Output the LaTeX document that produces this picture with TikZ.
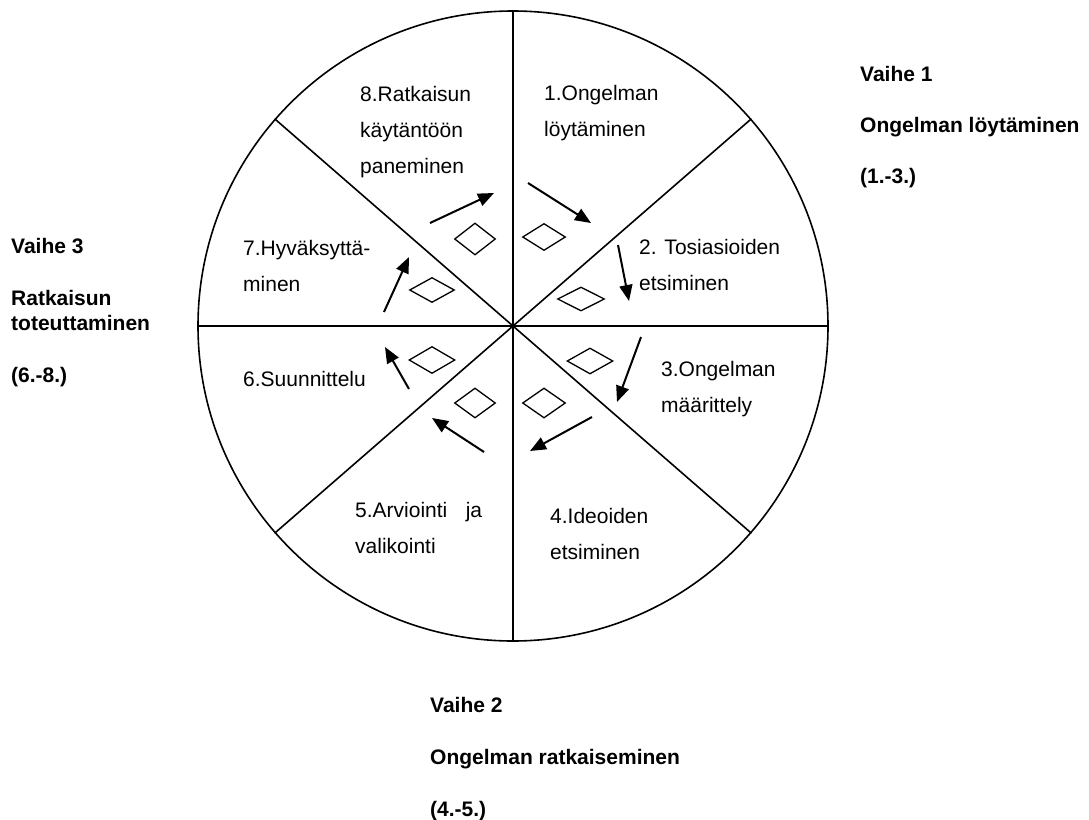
\documentclass[tikz,border=0pt]{standalone}
\usepackage{fontspec}
\setmainfont{Liberation Sans}
\usetikzlibrary{arrows.meta}
\usetikzlibrary{shapes.geometric,positioning}
\tikzset{wheel-line/.style={line width=1.6pt}}
\tikzset{>={Triangle[length=16pt,width=13pt]}}
\tikzset{step-arrow/.style={->, line width=2pt}}
\tikzset{step-diamond/.style={draw, diamond, inner sep=0, line width=1.3pt}}
\tikzset{step-text/.style={anchor=base west, inner sep=0, font=\fontsize{21}{25}\selectfont}}
\tikzset{phase-text/.style={anchor=base west, inner sep=0, font=\fontsize{21}{25}\selectfont\bfseries}}

\begin{document}
\begin{tikzpicture}[x=1pt, y=-1pt]
            \useasboundingbox (0,0) rectangle (1089,819);

            \node[circle, draw, wheel-line, minimum size=630pt, inner sep=0] (wheel) at (513,326) {};

            \draw[wheel-line] (wheel.north) -- (wheel.south);
            \draw[wheel-line] (wheel.west) -- (wheel.east);
            \draw[wheel-line] (wheel.139) -- (wheel.319);
            \draw[wheel-line] (wheel.41) -- (wheel.221);

            % sector texts
            \node[step-text] (t1a) at (544,100) {1.Ongelman};
            \node[step-text] (t1b) at ([yshift=-36pt]t1a.base west) {löytäminen};

            \node[step-text] (t2a) at (639,254) {2. Tosiasioiden};
            \node[step-text] (t2b) at ([yshift=-36pt]t2a.base west) {etsiminen};

            \node[step-text] (t3a) at (661,376) {3.Ongelman};
            \node[step-text] (t3b) at ([yshift=-36pt]t3a.base west) {määrittely};

            \node[step-text] (t4a) at (550,523) {4.Ideoiden};
            \node[step-text] (t4b) at ([yshift=-36pt]t4a.base west) {etsiminen};

            \node[step-text] (t5a) at (355,517) {\makebox[127pt][s]{5.Arviointi ja}};
            \node[step-text] (t5b) at ([yshift=-36pt]t5a.base west) {valikointi};

            \node[step-text] (t6a) at (243,386) {6.Suunnittelu};

            \node[step-text] (t7a) at (243,255) {7.Hyväksyttä-};
            \node[step-text] (t7b) at ([yshift=-36pt]t7a.base west) {minen};

            \node[step-text] (t8a) at (360,101) {8.Ratkaisun};
            \node[step-text] (t8b) at ([yshift=-36pt]t8a.base west) {käytäntöön};
            \node[step-text] (t8c) at ([yshift=-36pt]t8b.base west) {paneminen};

            % diamonds
            \node[step-diamond, minimum width=41pt, minimum height=32pt] (d8) at (475,239) {};
            \node[step-diamond, minimum width=43pt, minimum height=27pt] (d1) at (544,237) {};
            \node[step-diamond, minimum width=47pt, minimum height=24pt] (d2) at (581,299) {};
            \node[step-diamond, minimum width=46pt, minimum height=26pt] (d3) at (590,361) {};
            \node[step-diamond, minimum width=43pt, minimum height=30pt] (d4) at (544,403) {};
            \node[step-diamond, minimum width=41pt, minimum height=30pt] (d5) at (475,403) {};
            \node[step-diamond, minimum width=46pt, minimum height=27pt] (d6) at (432,360) {};
            \node[step-diamond, minimum width=45pt, minimum height=25pt] (d7) at (432,290) {};

            % arrows
            \coordinate (a8-from) at (430,223);
            \coordinate (a8-to) at (494,193);
            \coordinate (a1-from) at (528,183);
            \coordinate (a1-to) at (591,223);
            \coordinate (a2-from) at (618,245);
            \coordinate (a2-to) at (629,301);
            \coordinate (a3-from) at (641,337);
            \coordinate (a3-to) at (617,402);
            \coordinate (a4-from) at (592,417);
            \coordinate (a4-to) at (530,451);
            \coordinate (a5-from) at (484,452);
            \coordinate (a5-to) at (432,418);
            \coordinate (a6-from) at (409,389);
            \coordinate (a6-to) at (385,347);
            \coordinate (a7-from) at (384,312);
            \coordinate (a7-to) at (409,257);

            \draw[step-arrow] (a8-from) -- (a8-to);
            \draw[step-arrow] (a1-from) -- (a1-to);
            \draw[step-arrow] (a2-from) -- (a2-to);
            \draw[step-arrow] (a3-from) -- (a3-to);
            \draw[step-arrow] (a4-from) -- (a4-to);
            \draw[step-arrow] (a5-from) -- (a5-to);
            \draw[step-arrow] (a6-from) -- (a6-to);
            \draw[step-arrow] (a7-from) -- (a7-to);

            % phases
            \node[phase-text] (p1a) at (860,81) {Vaihe 1};
            \node[phase-text] (p1b) at ([yshift=-51pt]p1a.base west) {Ongelman löytäminen};
            \node[phase-text] (p1c) at ([yshift=-51pt]p1b.base west) {(1.-3.)};

            \node[phase-text] (p2a) at (430,712) {Vaihe 2};
            \node[phase-text] (p2b) at ([yshift=-52pt]p2a.base west) {Ongelman ratkaiseminen};
            \node[phase-text] (p2c) at ([yshift=-52pt]p2b.base west) {(4.-5.)};

            \node[phase-text] (p3a) at (11,253) {Vaihe 3};
            \node[phase-text] (p3b) at ([yshift=-52pt]p3a.base west) {Ratkaisun};
            \node[phase-text] (p3c) at ([yshift=-25pt]p3b.base west) {toteuttaminen};
            \node[phase-text] (p3d) at ([yshift=-52pt]p3c.base west) {(6.-8.)};

        \end{tikzpicture}
\end{document}
